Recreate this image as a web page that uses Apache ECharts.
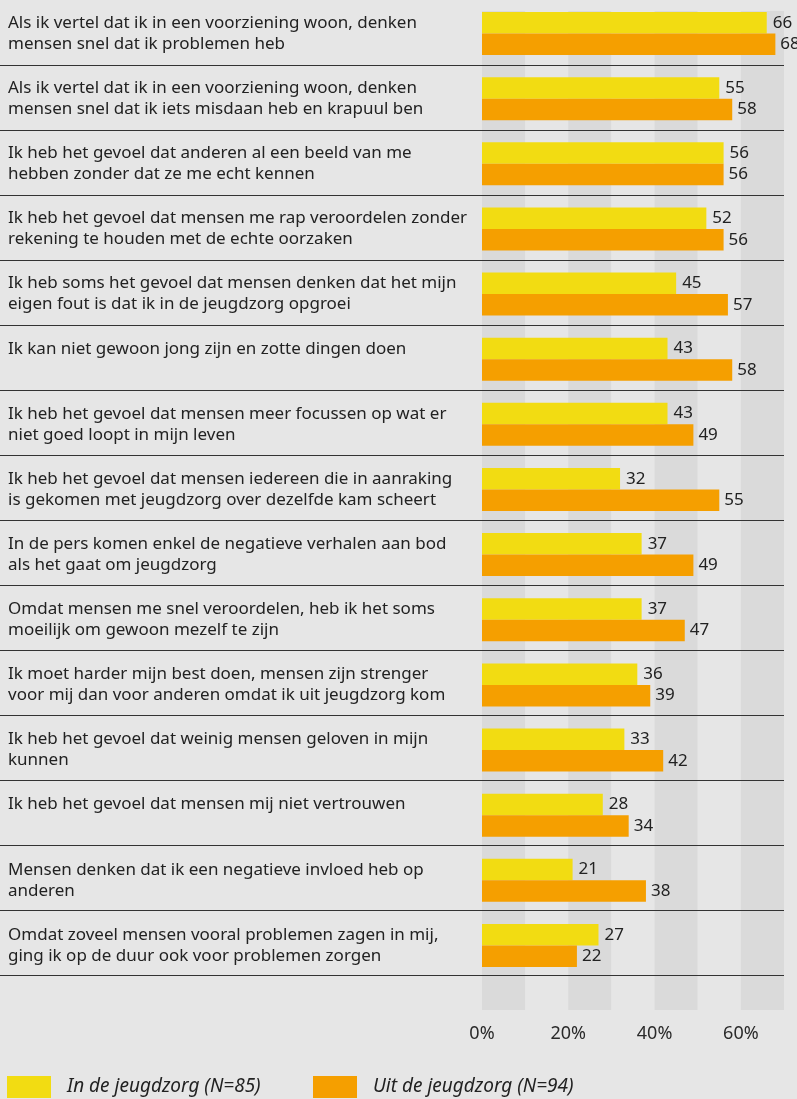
<!DOCTYPE html>
<html>
<head>
<meta charset="utf-8">
<script src="https://cdn.jsdelivr.net/npm/echarts@6/dist/echarts.min.js"></script>
<style>
  html, body { margin: 0; padding: 0; background: #e6e6e6; }
  #chart { width: 797px; height: 1099px; }
</style>
</head>
<body>
<div id="chart"></div>
<script>
// stellingen (zoals ze in de grafiek afbreken)
var statements = [
	'Als ik vertel dat ik in een voorziening woon, denken\nmensen snel dat ik problemen heb',
	'Als ik vertel dat ik in een voorziening woon, denken\nmensen snel dat ik iets misdaan heb en krapuul ben',
	'Ik heb het gevoel dat anderen al een beeld van me\nhebben zonder dat ze me echt kennen',
	'Ik heb het gevoel dat mensen me rap veroordelen zonder\nrekening te houden met de echte oorzaken',
	'Ik heb soms het gevoel dat mensen denken dat het mijn\neigen fout is dat ik in de jeugdzorg opgroei',
	'Ik kan niet gewoon jong zijn en zotte dingen doen',
	'Ik heb het gevoel dat mensen meer focussen op wat er\nniet goed loopt in mijn leven',
	'Ik heb het gevoel dat mensen iedereen die in aanraking\nis gekomen met jeugdzorg over dezelfde kam scheert',
	'In de pers komen enkel de negatieve verhalen aan bod\nals het gaat om jeugdzorg',
	'Omdat mensen me snel veroordelen, heb ik het soms\nmoeilijk om gewoon mezelf te zijn',
	'Ik moet harder mijn best doen, mensen zijn strenger\nvoor mij dan voor anderen omdat ik uit jeugdzorg kom',
	'Ik heb het gevoel dat weinig mensen geloven in mijn\nkunnen',
	'Ik heb het gevoel dat mensen mij niet vertrouwen',
	'Mensen denken dat ik een negatieve invloed heb op\nanderen',
	'Omdat zoveel mensen vooral problemen zagen in mij,\nging ik op de duur ook voor problemen zorgen'
];

var inJeugdzorg = [66, 55, 56, 52, 45, 43, 43, 32, 37, 37, 36, 33, 28, 21, 27];
var uitJeugdzorg = [68, 58, 56, 56, 57, 58, 49, 55, 49, 47, 39, 42, 34, 38, 22];

var seriesNames = ['In de jeugdzorg (N=85)', 'Uit de jeugdzorg (N=94)'];
var tickLabels = ['0%', '20%', '40%', '60%'];

var geel = '#f2dc12';
var oranje = '#f59f00';
var font = '"Noto Sans", sans-serif';

var chart = echarts.init(document.getElementById('chart'));

var tickMap = {};
tickLabels.forEach(function(t) { tickMap[parseInt(t, 10)] = t; });

var legendText = { fontSize: 19, fontStyle: 'italic', color: '#222', fontFamily: font, padding: [0, 0, 0, 11] };

var option = {
	backgroundColor: '#e6e6e6',
	animation: false,
	textStyle: { fontFamily: font },
	grid: [
		// grijze banden
		{ left: 482, right: 13, top: 11, bottom: 89 },
		// scheidingslijnen over de hele breedte
		{ left: 0, right: 13, top: -2.14, bottom: 124 },
		// staven
		{ left: 482, right: 13, top: 0.93, bottom: 121 }
	],
	xAxis: [
		{
			gridIndex: 0, type: 'value', min: 0, max: 70, interval: 10, z: 0,
			axisLine: { show: false }, axisTick: { show: false },
			splitLine: { show: false },
			splitArea: { show: true, areaStyle: { color: ['#dadada', '#e6e6e6'] } },
			axisLabel: {
				margin: 15, color: '#2a2a2a', fontSize: 18, fontFamily: font,
				formatter: function(v) { return tickMap[v] || ''; }
			}
		},
		{ gridIndex: 1, type: 'value', show: false },
		{ gridIndex: 2, type: 'value', min: 0, max: 70, show: false }
	],
	yAxis: [
		{ gridIndex: 0, type: 'category', data: statements, show: false },
		{
			gridIndex: 1, type: 'category', data: statements, inverse: true, z: 4,
			axisLine: { show: false }, axisTick: { show: false }, axisLabel: { show: false },
			splitLine: {
				show: true,
				interval: function(i) { return i > 0; },
				lineStyle: { color: '#333', width: 1 }
			}
		},
		{
			gridIndex: 2, type: 'category', data: statements, inverse: true,
			axisLine: { show: false }, axisTick: { show: false },
			splitLine: { show: false },
			axisLabel: {
				align: 'left', margin: 474, color: '#222', fontSize: 17,
				lineHeight: 21, fontFamily: font, padding: [9, 0, 0, 0],
				formatter: function(v) { return v.indexOf('\n') < 0 ? v + '\n ' : v; }
			}
		}
	],
	legend: [
		{
			left: 7, top: 1076, padding: 0, icon: 'rect', itemWidth: 44, itemHeight: 22,
			data: [seriesNames[0]], textStyle: legendText
		},
		{
			left: 313, top: 1076, padding: 0, icon: 'rect', itemWidth: 44, itemHeight: 22,
			data: [seriesNames[1]], textStyle: legendText
		}
	],
	series: [
		{
			name: seriesNames[0], type: 'bar', xAxisIndex: 2, yAxisIndex: 2,
			data: inJeugdzorg, barWidth: 21.5, barGap: '0%',
			itemStyle: { color: geel },
			label: { show: true, position: 'right', distance: 6, color: '#222', fontSize: 17 }
		},
		{
			name: seriesNames[1], type: 'bar', xAxisIndex: 2, yAxisIndex: 2,
			data: uitJeugdzorg, barWidth: 21.5, barGap: '0%',
			itemStyle: { color: oranje },
			label: { show: true, position: 'right', distance: 5, color: '#222', fontSize: 17 }
		}
	]
};

chart.setOption(option);

window.addEventListener('resize', function() {
	chart.resize();
});
</script>
</body>
</html>
